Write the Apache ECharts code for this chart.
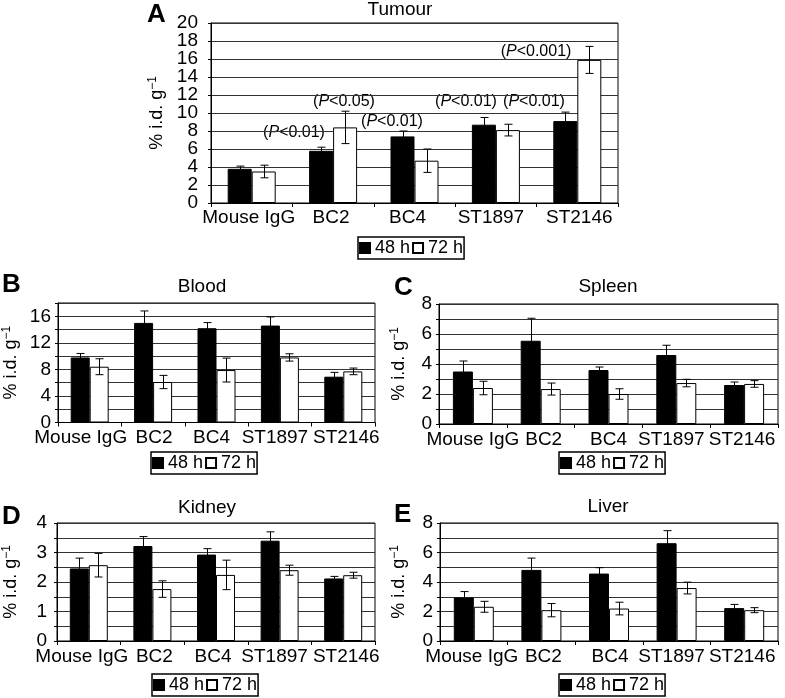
<!DOCTYPE html>
<html>
<head>
<meta charset="utf-8">
<script src="https://cdn.jsdelivr.net/npm/echarts@6/dist/echarts.min.js"></script>
<style>html,body{margin:0;padding:0;background:#fff}#c{width:785px;height:698px}</style>
</head>
<body>
<div id="c"></div>
<script>
// ---------- data ----------
const categories = ['Mouse IgG', 'BC2', 'BC4', 'ST1897', 'ST2146'];
const seriesNames = ['48 h', '72 h'];

const tumour48 = [3.8, 5.8, 7.4, 8.7, 9.1];
const tumour48Err = [0.3, 0.4, 0.6, 0.8, 1.0];
const tumour72 = [3.5, 8.4, 4.7, 8.1, 15.9];
const tumour72Err = [0.7, 1.8, 1.3, 0.65, 1.5];

const blood48 = [9.8, 15.0, 14.2, 14.6, 6.9];
const blood48Err = [0.6, 1.8, 0.85, 1.3, 0.65];
const blood72 = [8.4, 6.1, 7.9, 9.8, 7.7];
const blood72Err = [1.2, 1.0, 1.8, 0.55, 0.5];

const spleen48 = [3.5, 5.55, 3.6, 4.6, 2.6];
const spleen48Err = [0.7, 1.5, 0.2, 0.65, 0.2];
const spleen72 = [2.4, 2.33, 2.0, 2.73, 2.67];
const spleen72Err = [0.45, 0.4, 0.35, 0.25, 0.22];

const kidney48 = [2.46, 3.22, 2.93, 3.4, 2.12];
const kidney48Err = [0.35, 0.32, 0.2, 0.3, 0.07];
const kidney72 = [2.57, 1.76, 2.24, 2.4, 2.23];
const kidney72Err = [0.4, 0.28, 0.5, 0.17, 0.1];

const liver48 = [2.95, 4.82, 4.57, 6.63, 2.23];
const liver48Err = [0.4, 0.8, 0.4, 0.85, 0.25];
const liver72 = [2.32, 2.09, 2.2, 3.59, 2.09];
const liver72Err = [0.37, 0.45, 0.43, 0.4, 0.17];

const tumourTicks = [0, 2, 4, 6, 8, 10, 12, 14, 16, 18, 20];
const bloodTicks = [0, 4, 8, 12, 16];
const spleenTicks = [0, 2, 4, 6, 8];
const kidneyTicks = [0, 1, 2, 3, 4];
const liverTicks = [0, 2, 4, 6, 8];

const pLabels = ['(P<0.01)', '(P<0.05)', '(P<0.01)', '(P<0.01)', '(P<0.01)', '(P<0.001)'];

// ---------- layout ----------
const FONT = '"Liberation Sans", Arial, Helvetica, sans-serif';
const panels = [
  { letter: 'A', title: 'Tumour', d48: tumour48, e48: tumour48Err, d72: tumour72, e72: tumour72Err, ticks: tumourTicks,
    max: 20, step: 2, grid: { left: 211, top: 23, width: 407, height: 180 }, barW: 24, nameGap: 43, labMargin: 5, yLabMargin: 13,
    letterPos: [147, 2], titleX: 400, titleY: 0, legendPos: [358, 237], shifts: [-3, -2, -7, -5, 2] },
  { letter: 'B', title: 'Blood', d48: blood48, e48: blood48Err, d72: blood72, e72: blood72Err, ticks: bloodTicks,
    max: 18, step: 2, grid: { left: 57, top: 303, width: 318, height: 119.5 }, barW: 19, nameGap: 36, labMargin: 6, yLabMargin: 7,
    letterPos: [2, 272], titleX: 202, titleY: 277, legendPos: [151, 452], shifts: [-9, 1, -5, -5, 3] },
  { letter: 'C', title: 'Spleen', d48: spleen48, e48: spleen48Err, d72: spleen72, e72: spleen72Err, ticks: spleenTicks,
    max: 8, step: 1, grid: { left: 439, top: 304, width: 339, height: 120 }, barW: 20, nameGap: 29, labMargin: 6, yLabMargin: 7,
    letterPos: [394, 275], titleX: 608, titleY: 277, legendPos: [559, 452], shifts: [0, 3, 0, -5, -2] },
  { letter: 'D', title: 'Kidney', d48: kidney48, e48: kidney48Err, d72: kidney72, e72: kidney72Err, ticks: kidneyTicks,
    max: 4, step: 0.5, grid: { left: 55, top: 523, width: 320, height: 118 }, barW: 19, nameGap: 35, labMargin: 6, yLabMargin: 10,
    letterPos: [2, 504], titleX: 207, titleY: 498, legendPos: [152, 674], shifts: [-7, 2, -3, -5, 3] },
  { letter: 'E', title: 'Liver', d48: liver48, e48: liver48Err, d72: liver72, e72: liver72Err, ticks: liverTicks,
    max: 8, step: 1, grid: { left: 440, top: 523, width: 338, height: 118 }, barW: 20, nameGap: 30, labMargin: 6, yLabMargin: 7,
    letterPos: [394, 502], titleX: 608, titleY: 497, legendPos: [559, 674], shifts: [-2, 2, 1, -5, -2] }
];

function errRender(offsetSign, barW, cap) {
  return function (params, api) {
    const x = api.value(0), v = api.value(1), e = api.value(2);
    const hi = api.coord([x, v + e]);
    const lo = api.coord([x, v - e]);
    const cx = Math.round(hi[0] + offsetSign * barW / 2) + 0.5;
    const st = { stroke: '#000', lineWidth: 1 };
    return {
      type: 'group',
      children: [
        { type: 'line', shape: { x1: cx, y1: hi[1], x2: cx, y2: lo[1] }, style: st },
        { type: 'line', shape: { x1: cx - cap / 2, y1: hi[1], x2: cx + cap / 2, y2: hi[1] }, style: st },
        { type: 'line', shape: { x1: cx - cap / 2, y1: lo[1], x2: cx + cap / 2, y2: lo[1] }, style: st }
      ]
    };
  };
}

function shiftPad(s) {
  return s >= 0 ? [0, 0, 0, 2 * s] : [0, -2 * s, 0, 0];
}

const option = {
  animation: false,
  backgroundColor: '#fff',
  textStyle: { fontFamily: FONT, color: '#000' },
  grid: [], xAxis: [], yAxis: [], series: [], legend: [], title: [], graphic: []
};

const extraYAxes = [];
panels.forEach((p, i) => {
  // alternate tick labels split between two co-located axes so none is auto-hidden
  const evenLabels = p.ticks.filter((t, k) => k % 2 === 0);
  const oddLabels = p.ticks.filter((t, k) => k % 2 === 1);
  const fmt = list => v => (list.indexOf(Math.round(v * 100) / 100) >= 0 ? String(v) : '');
  const labelStyle = { fontSize: 19, color: '#000', fontFamily: FONT, margin: p.yLabMargin,
    showMinLabel: true, showMaxLabel: true, hideOverlap: false };

  option.grid.push(Object.assign({ show: true, borderColor: '#000', borderWidth: 1, backgroundColor: 'transparent' }, p.grid));
  option.xAxis.push({
    type: 'category', gridIndex: i,
    data: categories.map((c, k) => ({ value: c, textStyle: { padding: shiftPad(p.shifts[k]) } })),
    axisLine: { lineStyle: { color: '#000', width: 1 } },
    axisTick: { show: true, length: 4, lineStyle: { color: '#000' } },
    axisLabel: { interval: 0, fontSize: 19, color: '#000', fontFamily: FONT, margin: p.labMargin, hideOverlap: false },
    splitLine: { show: false }
  });
  option.yAxis.push({
    type: 'value', gridIndex: i, min: 0, max: p.max, interval: p.step,
    name: '% i.d. g{s|−1}', nameLocation: 'middle', nameGap: p.nameGap, nameRotate: 90,
    nameTextStyle: { fontSize: 18, color: '#000', fontFamily: FONT,
      rich: { s: { fontSize: 12, fontFamily: FONT, color: '#000', padding: [0, 0, 9, 0] } } },
    axisLine: { show: true, lineStyle: { color: '#000' } },
    axisTick: { show: true, length: 3, lineStyle: { color: '#000' } },
    axisLabel: Object.assign({}, labelStyle, { formatter: fmt(evenLabels) }),
    splitLine: { show: true, lineStyle: { color: '#333', width: 1 } }
  });
  extraYAxes.push({
    type: 'value', gridIndex: i, min: 0, max: p.max, interval: p.step, position: 'left',
    axisLine: { show: false }, axisTick: { show: false }, splitLine: { show: false },
    axisLabel: Object.assign({}, labelStyle, { formatter: fmt(oddLabels) })
  });
  const barBase = { type: 'bar', xAxisIndex: i, yAxisIndex: i, barWidth: p.barW, barGap: '0%', z: 2 };
  option.series.push(Object.assign({}, barBase, { name: seriesNames[0], data: p.d48,
    itemStyle: { color: '#000', borderColor: '#000', borderWidth: 1 } }));
  option.series.push(Object.assign({}, barBase, { name: seriesNames[1], data: p.d72,
    itemStyle: { color: '#fff', borderColor: '#000', borderWidth: 1 } }));
  option.series.push({ type: 'custom', xAxisIndex: i, yAxisIndex: i, z: 5, silent: true,
    renderItem: errRender(-1, p.barW, 8), encode: { x: 0, y: 1 },
    data: p.d48.map((v, k) => [k, v, p.e48[k]]) });
  option.series.push({ type: 'custom', xAxisIndex: i, yAxisIndex: i, z: 5, silent: true,
    renderItem: errRender(1, p.barW, 8), encode: { x: 0, y: 1 },
    data: p.d72.map((v, k) => [k, v, p.e72[k]]) });
  option.legend.push({
    data: seriesNames, left: p.legendPos[0], top: p.legendPos[1], orient: 'horizontal',
    icon: 'rect', itemWidth: 10, itemHeight: 10, itemGap: 2, padding: [2, 1],
    borderColor: '#000', borderWidth: 1.5, selectedMode: false,
    textStyle: { fontSize: 18, color: '#000', fontFamily: FONT }
  });
  option.title.push({ text: p.title, left: p.titleX, top: p.titleY, textAlign: 'center', padding: 0,
    textStyle: { fontSize: 19, fontWeight: 'normal', color: '#000', fontFamily: FONT } });
  option.title.push({ text: p.letter, left: p.letterPos[0], top: p.letterPos[1], padding: 0,
    textStyle: { fontSize: 26, fontWeight: 'bold', color: '#000', fontFamily: FONT } });
});
option.yAxis = option.yAxis.concat(extraYAxes);

// P-value annotations (panel A)
const pPos = [[294, 133], [344, 102], [392, 122], [466, 102], [534, 102], [536, 52]];
pLabels.forEach((t, k) => {
  const m = t.match(/^\((P)(.*)\)$/);
  option.graphic.push({
    type: 'text', x: pPos[k][0], y: pPos[k][1],
    style: { text: '({i|P}' + m[2] + ')', align: 'center', verticalAlign: 'middle',
      fontSize: 16, fontFamily: FONT, fill: '#000',
      rich: { i: { fontStyle: 'italic', fontSize: 16, fontFamily: FONT, fill: '#000' } } }
  });
});

const chart = echarts.init(document.getElementById('c'), null, { renderer: 'canvas' });
chart.setOption(option);
</script>
</body>
</html>
